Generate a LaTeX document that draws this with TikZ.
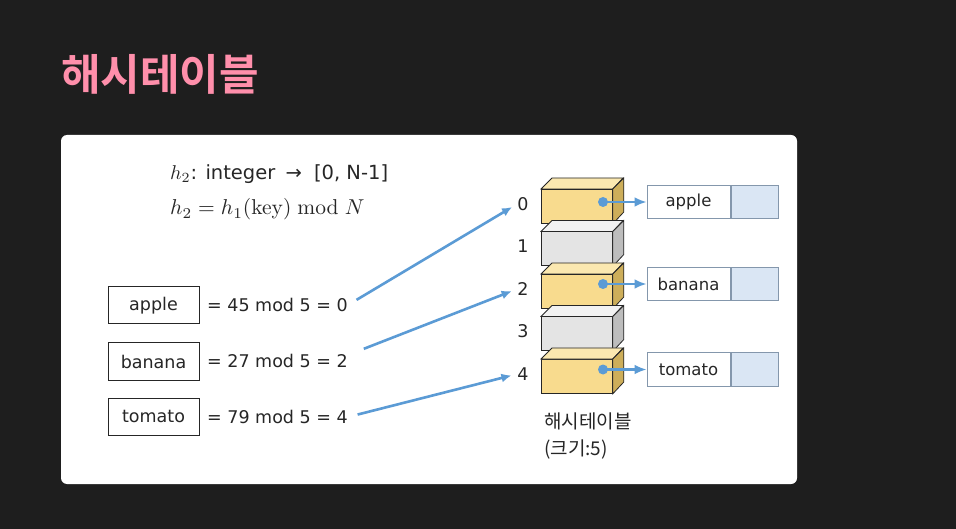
\documentclass[tikz,border=0pt]{standalone}
\usepackage{graphicx}
\usepackage[no-math]{fontspec}
\setmainfont{DejaVu Sans}
\newfontfamily\hangul{Noto Sans CJK KR}[BoldFont={Noto Sans CJK KR Bold}]
\usetikzlibrary{arrows.meta,positioning}

\definecolor{pagebg}{HTML}{1E1E1E}
\definecolor{titlepink}{HTML}{FF8FAB}
\definecolor{inkgray}{HTML}{262626}
\definecolor{linkblue}{HTML}{5B9BD5}
\definecolor{chainedge}{HTML}{8497AC}
\definecolor{ptrfill}{HTML}{DAE6F4}
\definecolor{yelfront}{HTML}{F8DB8E}
\definecolor{yeltop}{HTML}{FBE8B0}
\definecolor{yelside}{HTML}{CDAE5A}
\definecolor{gryfront}{HTML}{E4E4E4}
\definecolor{grytop}{HTML}{F2F2F2}
\definecolor{gryside}{HTML}{BDBDBD}

\newcommand{\bigmath}[2][2.0]{\scalebox{#1}{\fontsize{10}{12}\selectfont$#2$}}

\tikzset{
  keybox/.style={draw=inkgray, line width=1pt, minimum width=91pt, minimum height=37pt,
    font=\fontsize{17.5}{22}\selectfont, text=inkgray},
  modtext/.style={anchor=west, inner sep=0pt, font=\fontsize{17.5}{22}\selectfont, text=inkgray},
  idxlabel/.style={inner sep=0pt, font=\fontsize{17.5}{22}\selectfont, text=inkgray},
  slotfront/.style={draw=inkgray, line width=0.8pt, minimum width=71pt, minimum height=34pt,
    inner sep=0pt, anchor=north west},
  chainbox/.style={draw=chainedge, line width=1pt, fill=white, minimum width=83pt,
    minimum height=33pt, inner sep=0pt, font=\fontsize{16.5}{20}\selectfont, text=inkgray},
  ptrbox/.style={draw=chainedge, line width=1pt, fill=ptrfill, minimum width=47pt,
    minimum height=33pt, inner sep=0pt},
  hasharrow/.style={draw=linkblue, line width=2.6pt, -{Latex[length=10pt,width=9pt]}},
  ptrarrow/.style={draw=linkblue, line width=2.6pt, -{Latex[length=12pt,width=10pt]}}
}

\begin{document}
\begin{tikzpicture}[x=1pt,y=-1pt]
  % background and panel
  \fill[pagebg] (0,0) rectangle (956,529);
  \useasboundingbox (0,0) rectangle (956,529);
  \fill[white, rounded corners=6pt] (61,135) rectangle (797,484);

  % title
  \node[anchor=west, inner sep=0pt, text=titlepink, font=\hangul\fontsize{43}{48}\bfseries] (title) at (61,74) {해시테이블};

  % hash functions
  \node[anchor=base west, inner sep=0pt, text=inkgray, font=\fontsize{19.5}{22}\selectfont] (hfunc) at (170,180)
    {\bigmath{h_2}: integer\hspace{4pt} → \hspace{6pt}[0, N-1]};
  \node[anchor=base west, inner sep=0pt, text=inkgray] (hdef) at (170,215)
    {\bigmath[2.15]{h_2 = h_1(\mathrm{key}) \bmod N}};

  % keys
  \node[keybox] (kapple) at (153.5,305.5) {apple};
  \node[keybox] (kbanana) at (153.5,361.5) {banana};
  \node[keybox] (ktomato) at (153.5,416.5) {tomato};
  \node[modtext] (mapple) at (207,305) {= 45 mod 5 = 0};
  \node[modtext] (mbanana) at (207,361) {= 27 mod 5 = 2};
  \node[modtext] (mtomato) at (207,417) {= 79 mod 5 = 4};

  % table slots
  \foreach \i/\y/\c in {0/189/yel,1/231.5/gry,2/274/yel,3/316.5/gry,4/359/yel} {
    \node[slotfront, fill=\c front] (slot\i) at (541,\y) {};
    \draw[draw=inkgray, line width=0.8pt, fill=\c top] (slot\i.north west) -- ++(11,-11) -- ++(71,0)
      -- (slot\i.north east) -- cycle;
    \draw[draw=inkgray, line width=0.8pt, fill=\c side] (slot\i.north east) -- ++(11,-11) -- ++(0,34)
      -- (slot\i.south east) -- cycle;
    \node[idxlabel] (idx\i) at (523,\y+15) {\i};
  }

  % chains
  \node[chainbox] (capple) at (688.5,202) {apple};
  \node[ptrbox, right=0pt of capple] (papple) {};
  \node[chainbox] (cbanana) at (688.5,284) {banana};
  \node[ptrbox, right=0pt of cbanana] (pbanana) {};
  \node[chainbox] (ctomato) at (688.5,369.5) {tomato};
  \node[ptrbox, right=0pt of ctomato] (ptomato) {};

  \foreach \s/\k in {0/apple,2/banana,4/tomato} {
    \coordinate (dot\s) at (603,0 |- c\k.west);
    \fill[linkblue] (dot\s) circle (5pt);
    \draw[ptrarrow] (dot\s) -- (c\k.west);
  }

  % hash arrows
  \draw[hasharrow, shorten <=10pt, shorten >=6pt] (mapple.east) -- (idx0.west);
  \draw[hasharrow, shorten <=17pt, shorten >=6pt] (mbanana.east |- 0,355) -- (idx2.west);
  \draw[hasharrow, shorten <=10pt, shorten >=6pt] (mtomato.east) -- (idx4.west);

  % caption
  \node[anchor=north west, inner sep=0pt, align=left, text=inkgray,
    font=\hangul\fontsize{19}{27}\selectfont] (caption) at (544,413) {해시테이블\\(크기:5)};
\end{tikzpicture}
\end{document}
